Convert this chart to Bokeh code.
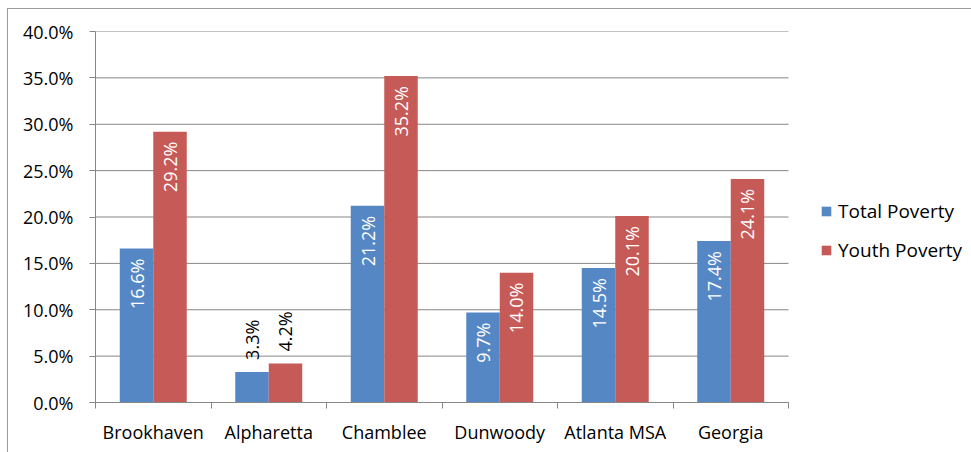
import math
from bokeh.plotting import figure
from bokeh.models import (ColumnDataSource, Range1d, LinearAxis, FixedTicker,
                          Legend, LegendItem)
from bokeh.embed import file_html
from bokeh.resources import INLINE
from bokeh.core.properties import value

# ---- data ----
categories = ["Brookhaven", "Alpharetta", "Chamblee", "Dunwoody", "Atlanta MSA", "Georgia"]
total_poverty = [16.6, 3.3, 21.2, 9.7, 14.5, 17.4]
youth_poverty = [29.2, 4.2, 35.2, 14.0, 20.1, 24.1]
series_names = ["Total Poverty", "Youth Poverty"]
y_ticks = [0, 5, 10, 15, 20, 25, 30, 35, 40]

# ---- style / layout ----
FONT = "Open Sans"
BLUE = "#5687C5"
RED = "#C65A57"
GRAY = "#868686"
EDGE = "#9a9a9a"
BAR_W = 0.29
INSIDE_MIN = 5.0

W, H = 971, 452
LEFT, TOP, BOTTOM = 95, 31, 50
CAT_PX = 115.5  # pixel width of one category slot
n = len(categories)
x_end = (W - LEFT) / CAT_PX  # frame extends to the right edge to host the legend

p = figure(width=W, height=H, output_backend="svg", toolbar_location=None,
           x_range=Range1d(0, x_end), y_range=Range1d(0, 40),
           x_axis_type=None, y_axis_type=None,
           min_border_left=LEFT, min_border_right=0,
           min_border_top=TOP, min_border_bottom=BOTTOM)
p.outline_line_color = None
p.background_fill_color = "white"
p.border_fill_alpha = 0
p.styles = {
    "background-color": "white",
    "background-image": f"linear-gradient({EDGE},{EDGE}), linear-gradient({EDGE},{EDGE})",
    "background-size": "1px 100%, 100% 1px",
    "background-position": "7px 8px, 7px 8px",
    "background-repeat": "no-repeat",
}

# horizontal grid lines over the category area only
p.segment(x0=[0] * len(y_ticks), x1=[n] * len(y_ticks), y0=y_ticks, y1=y_ticks,
          line_color=GRAY, line_width=1)

# y axis
yaxis = LinearAxis(ticker=FixedTicker(ticks=y_ticks),
                   major_label_overrides={t: f"{t:.1f}%" for t in y_ticks},
                   axis_line_color=GRAY, major_tick_line_color=GRAY,
                   major_tick_out=6, major_tick_in=0, minor_tick_line_color=None,
                   major_label_text_font=FONT, major_label_text_font_size="18px",
                   major_label_text_color="black", major_label_standoff=16)
p.add_layout(yaxis, "left")

# x axis
centers = [i + 0.5 for i in range(n)]
bounds = [i for i in range(n + 1)]
xaxis = LinearAxis(ticker=FixedTicker(ticks=centers, minor_ticks=bounds),
                   bounds=(0, n),
                   major_label_overrides={c: name for c, name in zip(centers, categories)},
                   axis_line_color=GRAY, major_tick_line_color=None,
                   minor_tick_line_color=GRAY, minor_tick_out=6, minor_tick_in=0,
                   major_tick_out=0, major_tick_in=0,
                   major_label_text_font=FONT, major_label_text_font_size="18px",
                   major_label_text_color="black", major_label_standoff=11)
p.add_layout(xaxis, "below")

# bars
renderers = []
label_in = dict(x=[], y=[], t=[])
label_out = dict(x=[], y=[], t=[])
for k, (vals, color) in enumerate([(total_poverty, BLUE), (youth_poverty, RED)]):
    xs = [c + (k - 0.5) * BAR_W for c in centers]
    src = ColumnDataSource(dict(x=xs, top=vals))
    r = p.vbar(x="x", top="top", width=BAR_W, bottom=0, source=src,
               fill_color=color, line_color=None)
    renderers.append(r)
    for x, v in zip(xs, vals):
        d = label_in if v >= INSIDE_MIN else label_out
        d["x"].append(x)
        d["y"].append(v)
        d["t"].append(f"{v:.1f}%")

p.text(x="x", y="y", text="t", source=ColumnDataSource(label_in), angle=math.pi / 2,
       text_align="right", text_baseline="middle", y_offset=10,
       text_color="white", text_font=value(FONT), text_font_size="18px")
p.text(x="x", y="y", text="t", source=ColumnDataSource(label_out), angle=math.pi / 2,
       text_align="left", text_baseline="middle", y_offset=-12,
       text_color="black", text_font=value(FONT), text_font_size="18px")

legend = Legend(items=[LegendItem(label=s, renderers=[r]) for s, r in zip(series_names, renderers)],
                location=(725, 139), orientation="vertical",
                glyph_width=12, glyph_height=12, label_standoff=6, label_height=20,
                spacing=13, padding=0, margin=0, border_line_color=None,
                background_fill_alpha=0, label_text_font=FONT,
                label_text_font_size="19px", label_text_color="black")
p.add_layout(legend)

open("out.html", "w").write(file_html(p, INLINE))
